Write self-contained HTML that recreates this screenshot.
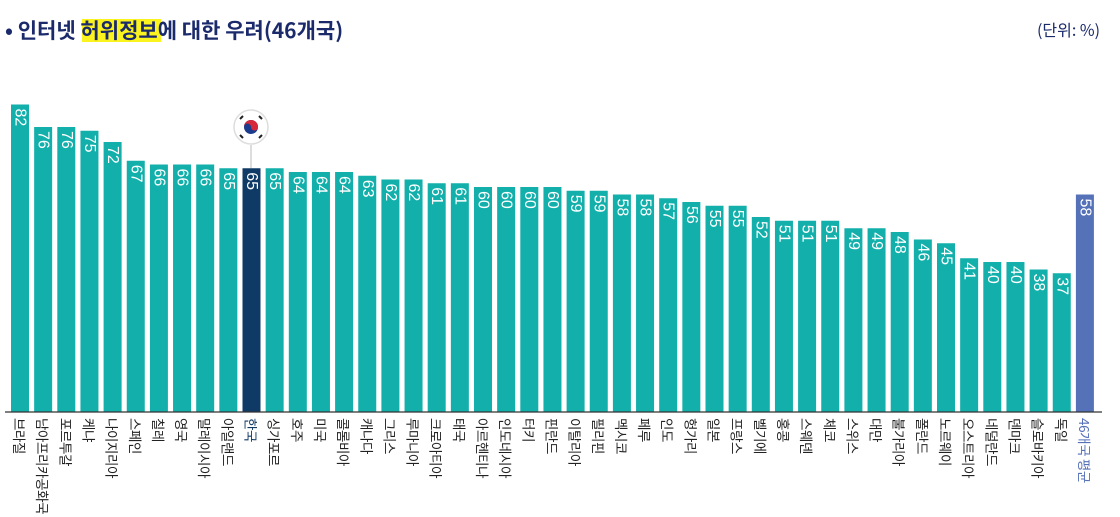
<!DOCTYPE html>
<html><head><meta charset="utf-8"><style>
html,body{margin:0;padding:0;background:#fff;}
svg{display:block;font-family:"Liberation Sans","Noto Sans CJK KR",sans-serif;}
.b rect{fill:#12afab}
.v{font-size:16px;fill:#fff;dominant-baseline:central}
.l{font-size:13.5px;letter-spacing:-0.4px;fill:#222;dominant-baseline:central;font-family:"Noto Sans CJK KR",sans-serif}
</style></head><body>
<svg width="1120" height="517" viewBox="0 0 1120 517" xmlns="http://www.w3.org/2000/svg">
<rect x="82" y="19" width="79" height="23" fill="#fbf31d"/>
<text x="5" y="38" font-size="21" font-weight="bold" fill="#1b2a6b" font-family="'Noto Sans CJK KR',sans-serif">• 인터넷 허위정보에 대한 우려(46개국)</text>
<text x="1100" y="36" font-size="16" fill="#1b2a6b" text-anchor="end" font-family="'Noto Sans CJK KR',sans-serif">(단위: %)</text>
<g class="b">
<g transform="translate(11,0)"><rect y="104.5" width="18" height="307.5"/><text class="v" transform="translate(9,108.5) rotate(90)">82</text><text class="l" transform="translate(9,418) rotate(90)">브라질</text></g>
<g transform="translate(34.15,0)"><rect y="127" width="18" height="285"/><text class="v" transform="translate(9,131) rotate(90)">76</text><text class="l" transform="translate(9,418) rotate(90)">남아프리카공화국</text></g>
<g transform="translate(57.3,0)"><rect y="127" width="18" height="285"/><text class="v" transform="translate(9,131) rotate(90)">76</text><text class="l" transform="translate(9,418) rotate(90)">포르투갈</text></g>
<g transform="translate(80.45,0)"><rect y="130.75" width="18" height="281.25"/><text class="v" transform="translate(9,134.75) rotate(90)">75</text><text class="l" transform="translate(9,418) rotate(90)">케냐</text></g>
<g transform="translate(103.6,0)"><rect y="142" width="18" height="270"/><text class="v" transform="translate(9,146) rotate(90)">72</text><text class="l" transform="translate(9,418) rotate(90)">나이지리아</text></g>
<g transform="translate(126.75,0)"><rect y="160.75" width="18" height="251.25"/><text class="v" transform="translate(9,164.75) rotate(90)">67</text><text class="l" transform="translate(9,418) rotate(90)">스페인</text></g>
<g transform="translate(149.9,0)"><rect y="164.5" width="18" height="247.5"/><text class="v" transform="translate(9,168.5) rotate(90)">66</text><text class="l" transform="translate(9,418) rotate(90)">칠레</text></g>
<g transform="translate(173.05,0)"><rect y="164.5" width="18" height="247.5"/><text class="v" transform="translate(9,168.5) rotate(90)">66</text><text class="l" transform="translate(9,418) rotate(90)">영국</text></g>
<g transform="translate(196.2,0)"><rect y="164.5" width="18" height="247.5"/><text class="v" transform="translate(9,168.5) rotate(90)">66</text><text class="l" transform="translate(9,418) rotate(90)">말레이시아</text></g>
<g transform="translate(219.35,0)"><rect y="168.25" width="18" height="243.75"/><text class="v" transform="translate(9,172.25) rotate(90)">65</text><text class="l" transform="translate(9,418) rotate(90)">아일랜드</text></g>
<g transform="translate(242.5,0)"><rect y="168.25" width="18" height="243.75" style="fill:#0f3a66"/><text class="v" transform="translate(9,172.25) rotate(90)">65</text><text class="l" transform="translate(9,418) rotate(90)" style="fill:#0f3a66">한국</text></g>
<g transform="translate(265.65,0)"><rect y="168.25" width="18" height="243.75"/><text class="v" transform="translate(9,172.25) rotate(90)">65</text><text class="l" transform="translate(9,418) rotate(90)">싱가포르</text></g>
<g transform="translate(288.8,0)"><rect y="172" width="18" height="240"/><text class="v" transform="translate(9,176) rotate(90)">64</text><text class="l" transform="translate(9,418) rotate(90)">호주</text></g>
<g transform="translate(311.95,0)"><rect y="172" width="18" height="240"/><text class="v" transform="translate(9,176) rotate(90)">64</text><text class="l" transform="translate(9,418) rotate(90)">미국</text></g>
<g transform="translate(335.1,0)"><rect y="172" width="18" height="240"/><text class="v" transform="translate(9,176) rotate(90)">64</text><text class="l" transform="translate(9,418) rotate(90)">콜롬비아</text></g>
<g transform="translate(358.25,0)"><rect y="175.75" width="18" height="236.25"/><text class="v" transform="translate(9,179.75) rotate(90)">63</text><text class="l" transform="translate(9,418) rotate(90)">캐나다</text></g>
<g transform="translate(381.4,0)"><rect y="179.5" width="18" height="232.5"/><text class="v" transform="translate(9,183.5) rotate(90)">62</text><text class="l" transform="translate(9,418) rotate(90)">그리스</text></g>
<g transform="translate(404.55,0)"><rect y="179.5" width="18" height="232.5"/><text class="v" transform="translate(9,183.5) rotate(90)">62</text><text class="l" transform="translate(9,418) rotate(90)">루마니아</text></g>
<g transform="translate(427.7,0)"><rect y="183.25" width="18" height="228.75"/><text class="v" transform="translate(9,187.25) rotate(90)">61</text><text class="l" transform="translate(9,418) rotate(90)">크로아티아</text></g>
<g transform="translate(450.85,0)"><rect y="183.25" width="18" height="228.75"/><text class="v" transform="translate(9,187.25) rotate(90)">61</text><text class="l" transform="translate(9,418) rotate(90)">태국</text></g>
<g transform="translate(474,0)"><rect y="187" width="18" height="225"/><text class="v" transform="translate(9,191) rotate(90)">60</text><text class="l" transform="translate(9,418) rotate(90)">아르헨티나</text></g>
<g transform="translate(497.15,0)"><rect y="187" width="18" height="225"/><text class="v" transform="translate(9,191) rotate(90)">60</text><text class="l" transform="translate(9,418) rotate(90)">인도네시아</text></g>
<g transform="translate(520.3,0)"><rect y="187" width="18" height="225"/><text class="v" transform="translate(9,191) rotate(90)">60</text><text class="l" transform="translate(9,418) rotate(90)">터키</text></g>
<g transform="translate(543.45,0)"><rect y="187" width="18" height="225"/><text class="v" transform="translate(9,191) rotate(90)">60</text><text class="l" transform="translate(9,418) rotate(90)">핀란드</text></g>
<g transform="translate(566.6,0)"><rect y="190.75" width="18" height="221.25"/><text class="v" transform="translate(9,194.75) rotate(90)">59</text><text class="l" transform="translate(9,418) rotate(90)">이탈리아</text></g>
<g transform="translate(589.75,0)"><rect y="190.75" width="18" height="221.25"/><text class="v" transform="translate(9,194.75) rotate(90)">59</text><text class="l" transform="translate(9,418) rotate(90)">필리핀</text></g>
<g transform="translate(612.9,0)"><rect y="194.5" width="18" height="217.5"/><text class="v" transform="translate(9,198.5) rotate(90)">58</text><text class="l" transform="translate(9,418) rotate(90)">멕시코</text></g>
<g transform="translate(636.05,0)"><rect y="194.5" width="18" height="217.5"/><text class="v" transform="translate(9,198.5) rotate(90)">58</text><text class="l" transform="translate(9,418) rotate(90)">페루</text></g>
<g transform="translate(659.2,0)"><rect y="198.25" width="18" height="213.75"/><text class="v" transform="translate(9,202.25) rotate(90)">57</text><text class="l" transform="translate(9,418) rotate(90)">인도</text></g>
<g transform="translate(682.35,0)"><rect y="202" width="18" height="210"/><text class="v" transform="translate(9,206) rotate(90)">56</text><text class="l" transform="translate(9,418) rotate(90)">헝가리</text></g>
<g transform="translate(705.5,0)"><rect y="205.75" width="18" height="206.25"/><text class="v" transform="translate(9,209.75) rotate(90)">55</text><text class="l" transform="translate(9,418) rotate(90)">일본</text></g>
<g transform="translate(728.65,0)"><rect y="205.75" width="18" height="206.25"/><text class="v" transform="translate(9,209.75) rotate(90)">55</text><text class="l" transform="translate(9,418) rotate(90)">프랑스</text></g>
<g transform="translate(751.8,0)"><rect y="217" width="18" height="195"/><text class="v" transform="translate(9,221) rotate(90)">52</text><text class="l" transform="translate(9,418) rotate(90)">벨기에</text></g>
<g transform="translate(774.95,0)"><rect y="220.75" width="18" height="191.25"/><text class="v" transform="translate(9,224.75) rotate(90)">51</text><text class="l" transform="translate(9,418) rotate(90)">홍콩</text></g>
<g transform="translate(798.1,0)"><rect y="220.75" width="18" height="191.25"/><text class="v" transform="translate(9,224.75) rotate(90)">51</text><text class="l" transform="translate(9,418) rotate(90)">스웨덴</text></g>
<g transform="translate(821.25,0)"><rect y="220.75" width="18" height="191.25"/><text class="v" transform="translate(9,224.75) rotate(90)">51</text><text class="l" transform="translate(9,418) rotate(90)">체코</text></g>
<g transform="translate(844.4,0)"><rect y="228.25" width="18" height="183.75"/><text class="v" transform="translate(9,232.25) rotate(90)">49</text><text class="l" transform="translate(9,418) rotate(90)">스위스</text></g>
<g transform="translate(867.55,0)"><rect y="228.25" width="18" height="183.75"/><text class="v" transform="translate(9,232.25) rotate(90)">49</text><text class="l" transform="translate(9,418) rotate(90)">대만</text></g>
<g transform="translate(890.7,0)"><rect y="232" width="18" height="180"/><text class="v" transform="translate(9,236) rotate(90)">48</text><text class="l" transform="translate(9,418) rotate(90)">불가리아</text></g>
<g transform="translate(913.85,0)"><rect y="239.5" width="18" height="172.5"/><text class="v" transform="translate(9,243.5) rotate(90)">46</text><text class="l" transform="translate(9,418) rotate(90)">폴란드</text></g>
<g transform="translate(937,0)"><rect y="243.25" width="18" height="168.75"/><text class="v" transform="translate(9,247.25) rotate(90)">45</text><text class="l" transform="translate(9,418) rotate(90)">노르웨이</text></g>
<g transform="translate(960.15,0)"><rect y="258.25" width="18" height="153.75"/><text class="v" transform="translate(9,262.25) rotate(90)">41</text><text class="l" transform="translate(9,418) rotate(90)">오스트리아</text></g>
<g transform="translate(983.3,0)"><rect y="262" width="18" height="150"/><text class="v" transform="translate(9,266) rotate(90)">40</text><text class="l" transform="translate(9,418) rotate(90)">네덜란드</text></g>
<g transform="translate(1006.45,0)"><rect y="262" width="18" height="150"/><text class="v" transform="translate(9,266) rotate(90)">40</text><text class="l" transform="translate(9,418) rotate(90)">덴마크</text></g>
<g transform="translate(1029.6,0)"><rect y="269.5" width="18" height="142.5"/><text class="v" transform="translate(9,273.5) rotate(90)">38</text><text class="l" transform="translate(9,418) rotate(90)">슬로바키아</text></g>
<g transform="translate(1052.75,0)"><rect y="273.25" width="18" height="138.75"/><text class="v" transform="translate(9,277.25) rotate(90)">37</text><text class="l" transform="translate(9,418) rotate(90)">독일</text></g>
<g transform="translate(1075.9,0)"><rect y="194.5" width="18" height="217.5" style="fill:#5571b8"/><text class="v" transform="translate(9,198.5) rotate(90)">58</text><text class="l" transform="translate(9,418) rotate(90)" style="fill:#5571b8">46개국 평균</text></g>
</g>
<line x1="5" y1="412" x2="1102" y2="412" stroke="#333" stroke-width="1.2"/>
<line x1="251" y1="145" x2="251" y2="168" stroke="#bbb" stroke-width="1"/>
<circle cx="251" cy="127" r="17" fill="#fff" stroke="#ddd" stroke-width="1.5"/>
<circle cx="251" cy="127" r="7" fill="#1b3c8c"/>
<path d="M244 127 A7 7 0 0 1 258 127 A3.5 3.5 0 0 1 251 127 A3.5 3.5 0 0 0 244 127Z" fill="#d62839"/>
<g stroke="#222" stroke-width="2">
<line x1="240" y1="119" x2="243" y2="116"/><line x1="259" y1="116" x2="262" y2="119"/>
<line x1="240" y1="135" x2="243" y2="138"/><line x1="259" y1="138" x2="262" y2="135"/>
</g>
</svg>
</body></html>
